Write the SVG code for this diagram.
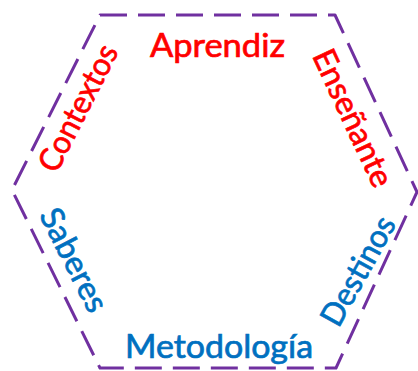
<svg xmlns="http://www.w3.org/2000/svg" width="418" height="371" viewBox="0 0 418 371">
<style>
.hex{fill:none;stroke:#7030A0;stroke-width:3;stroke-dasharray:27 11;stroke-linejoin:round}
.t{font-family:Lato,"Liberation Sans",sans-serif;font-size:32px;text-anchor:middle;stroke-width:0.7px}
.r{fill:#FF0000;stroke:#FF0000}
.b{fill:#0070C0;stroke:#0070C0}
</style>
<rect width="418" height="371" fill="#ffffff"/>
<g id="hexagon">
<path class="hex" d="M100,15 L335,15 L417,192 L336,368 L100,368 L12,190 Z"/>
</g>
<g id="aprendiz"><text class="t r" x="217.5" y="57" textLength="135" lengthAdjust="spacingAndGlyphs">Aprendiz</text></g>
<g id="metodologia"><text class="t b" x="219" y="358" textLength="188" lengthAdjust="spacingAndGlyphs">Metodología</text></g>
<g id="contextos"><text class="t r" transform="translate(78,108) rotate(-63)" x="0" y="11" textLength="138" lengthAdjust="spacingAndGlyphs">Contextos</text></g>
<g id="ensenante"><text class="t r" transform="translate(353,118) rotate(65)" x="0" y="11" textLength="148" lengthAdjust="spacingAndGlyphs">Enseñante</text></g>
<g id="saberes"><text class="t b" transform="translate(74,260) rotate(63)" x="0" y="11" textLength="112" lengthAdjust="spacingAndGlyphs">Saberes</text></g>
<g id="destinos"><text class="t b" transform="translate(358,271) rotate(-61)" x="0" y="11" textLength="120" lengthAdjust="spacingAndGlyphs">Destinos</text></g>
</svg>
